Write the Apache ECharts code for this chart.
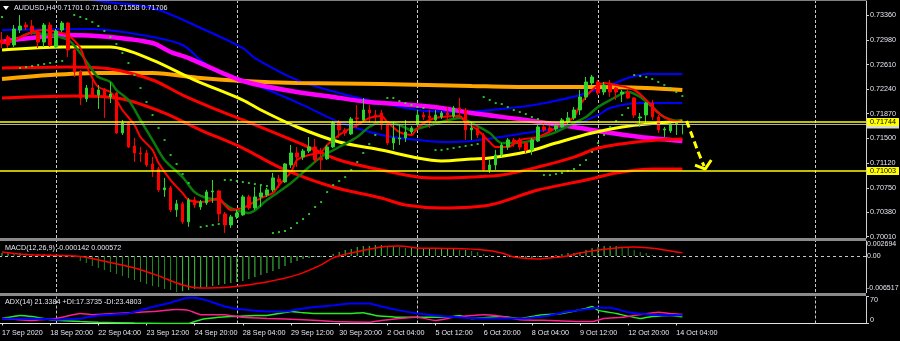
<!DOCTYPE html>
<html><head><meta charset="utf-8">
<script src="https://cdn.jsdelivr.net/npm/echarts@6/dist/echarts.min.js"></script>
<style>html,body{margin:0;padding:0;background:#000;overflow:hidden}#c{width:900px;height:341px}</style>
</head><body><div id="c"></div>
<script>
// ---------------- DATA ----------------
const chartTitle = 'AUDUSD,H4 0.71701 0.71708 0.71558 0.71706';
const macdTitle = 'MACD(12,26,9) -0.000142 0.000572';
const adxTitle = 'ADX(14) 21.3384 +DI:17.3735 -DI:23.4803';
const axisSlots = 144;                      // bars + empty chart shift
const tickBars = [0,8,16,24,32,40,48,56,64,72,80,88,96,104,112];
const tickLabels = ['17 Sep 2020','18 Sep 20:00','22 Sep 04:00','23 Sep 12:00','24 Sep 20:00','28 Sep 04:00','29 Sep 12:00','30 Sep 20:00','2 Oct 04:00','5 Oct 12:00','6 Oct 20:00','8 Oct 04:00','9 Oct 12:00','12 Oct 20:00','14 Oct 04:00'];
const weekStartBars = [9,39,69,99,135];
const priceTicks = [0.70010,0.70380,0.70750,0.71120,0.71500,0.71870,0.72240,0.72610,0.72980,0.73360];
const priceMin = 0.69991, priceMax = 0.73572;
const macdTicks = [-0.006517, 0, 0.002694];
const macdTickLabels = ['-0.006517','0.00','0.002694'];
const adxTicks = [0, 70];
const adxTickLabels = ['0','70'];
const resistanceLevel = 0.71744;
const supportLevel = 0.71003;
const bidPrice = 0.71706;

// [open, close, low, high]
const candles = [
[0.72983,0.72937,0.72862,0.73103],[0.73028,0.72907,0.72862,0.73058],[0.72907,0.73149,0.72877,0.73209],[0.73134,0.73194,0.73088,0.73360],[0.73209,0.73179,0.73134,0.73254],
[0.73194,0.73103,0.73058,0.73285],[0.73103,0.72952,0.72862,0.73134],[0.72952,0.73209,0.72877,0.73239],[0.73209,0.72907,0.72877,0.73254],[0.72877,0.73118,0.72862,0.73149],
[0.73134,0.73239,0.73103,0.73269],[0.73239,0.72832,0.72726,0.73254],[0.72832,0.72499,0.72424,0.72862],[0.72499,0.72107,0.72001,0.72530],[0.72092,0.72258,0.72046,0.72303],
[0.72258,0.72152,0.72107,0.72379],[0.72152,0.72228,0.71941,0.72303],[0.72228,0.72122,0.71805,0.72258],[0.72122,0.72167,0.72031,0.72348],[0.72182,0.71578,0.71563,0.72197],
[0.71578,0.71729,0.71548,0.71775],[0.71729,0.71367,0.71352,0.71745],[0.71382,0.71276,0.71140,0.71503],[0.71276,0.71261,0.71140,0.71367],[0.71276,0.71095,0.71065,0.71322],
[0.71110,0.71020,0.70914,0.71216],[0.71035,0.70718,0.70687,0.71065],[0.70718,0.70748,0.70612,0.70899],[0.70748,0.70416,0.70385,0.70778],[0.70416,0.70507,0.70310,0.70567],
[0.70507,0.70235,0.70204,0.70537],[0.70235,0.70567,0.70159,0.70597],[0.70567,0.70491,0.70446,0.70612],[0.70461,0.70537,0.70416,0.70567],[0.70521,0.70687,0.70491,0.70718],
[0.70687,0.70702,0.70521,0.70869],[0.70702,0.70355,0.70235,0.70718],[0.70355,0.70189,0.70068,0.70385],[0.70189,0.70310,0.70143,0.70340],[0.70310,0.70370,0.70280,0.70416],
[0.70340,0.70612,0.70325,0.70642],[0.70612,0.70446,0.70416,0.70642],[0.70446,0.70612,0.70416,0.70763],[0.70612,0.70672,0.70461,0.70793],[0.70642,0.70718,0.70612,0.70748],
[0.70718,0.70899,0.70687,0.70974],[0.70884,0.70838,0.70748,0.70944],[0.70838,0.71110,0.70823,0.71125],[0.71095,0.71276,0.71050,0.71397],[0.71276,0.71216,0.71065,0.71367],
[0.71216,0.71306,0.71171,0.71337],[0.71306,0.71367,0.71276,0.71518],[0.71367,0.71171,0.71125,0.71488],[0.71201,0.71171,0.71020,0.71352],[0.71186,0.71367,0.71171,0.71397],
[0.71367,0.71729,0.71352,0.71760],[0.71729,0.71624,0.71503,0.71775],[0.71624,0.71578,0.71533,0.71654],[0.71563,0.71790,0.71548,0.71820],[0.71805,0.71790,0.71654,0.72001],
[0.71775,0.71926,0.71760,0.72107],[0.71926,0.71880,0.71729,0.72001],[0.71850,0.71820,0.71699,0.71926],[0.71880,0.71699,0.71624,0.71926],[0.71699,0.71427,0.71397,0.71729],
[0.71427,0.71503,0.71322,0.71745],[0.71488,0.71503,0.71397,0.71699],[0.71503,0.71593,0.71442,0.71775],[0.71593,0.71654,0.71563,0.71684],[0.71699,0.71850,0.71669,0.71926],
[0.71850,0.71820,0.71775,0.71895],[0.71835,0.71805,0.71654,0.71926],[0.71775,0.71850,0.71760,0.71926],[0.71820,0.71880,0.71790,0.71910],[0.71880,0.71850,0.71745,0.71971],
[0.71835,0.71956,0.71805,0.71986],[0.71956,0.71926,0.71850,0.72107],[0.71926,0.71624,0.71473,0.71956],[0.71624,0.71654,0.71473,0.71745],[0.71654,0.71548,0.71503,0.71699],
[0.71548,0.71020,0.71005,0.71578],[0.71020,0.71095,0.70974,0.71171],[0.71095,0.71246,0.71020,0.71322],[0.71246,0.71397,0.71216,0.71427],[0.71367,0.71473,0.71322,0.71503],
[0.71473,0.71442,0.71367,0.71503],[0.71473,0.71367,0.71322,0.71503],[0.71427,0.71322,0.71276,0.71442],[0.71322,0.71473,0.71246,0.71503],[0.71457,0.71669,0.71442,0.71699],
[0.71669,0.71624,0.71593,0.71745],[0.71654,0.71609,0.71578,0.71699],[0.71639,0.71684,0.71609,0.71714],[0.71669,0.71775,0.71654,0.71805],[0.71745,0.71805,0.71714,0.71895],
[0.71805,0.71926,0.71775,0.71971],[0.71926,0.72122,0.71850,0.72228],[0.72122,0.72348,0.72077,0.72424],[0.72333,0.72424,0.72303,0.72454],[0.72348,0.72182,0.72152,0.72379],
[0.72197,0.72303,0.72152,0.72348],[0.72303,0.72197,0.72122,0.72379],[0.72258,0.72197,0.72077,0.72273],[0.72167,0.72197,0.72046,0.72228],[0.72197,0.72107,0.72092,0.72228],
[0.72107,0.71850,0.71805,0.72122],[0.71805,0.71820,0.71669,0.71880],[0.71850,0.72031,0.71729,0.72046],[0.72031,0.71820,0.71775,0.72077],[0.71820,0.71624,0.71578,0.71850],
[0.71624,0.71639,0.71518,0.71669],[0.71609,0.71699,0.71578,0.71745],[0.71714,0.71729,0.71548,0.71745],[0.71701,0.71706,0.71558,0.71708]
];

// indicator lines: [bar, price]
const blueUpper = [[10,0.73677],[16,0.73572],[25,0.73466],[33,0.73164],[40,0.72861],[42,0.72710],[49,0.72378],[56,0.72181],[63,0.72030],[69,0.71925],[76,0.71894],[86,0.71970],[91,0.72046],[96,0.72151],[101,0.72302],[104,0.72408],[107,0.72469],[113,0.72469]];
const blueLower = [[0,0.73133],[15,0.73148],[25,0.73028],[30,0.72907],[33,0.72680],[36,0.72499],[40,0.72378],[45,0.72197],[50,0.72000],[56,0.71743],[63,0.71547],[69,0.71471],[73,0.71441],[78,0.71456],[87,0.71577],[95,0.71698],[99,0.71849],[101,0.71955],[106,0.72030],[113,0.72030]];
const magentaMA = [[0,0.72952],[3,0.72997],[11,0.73058],[18,0.73028],[25,0.72937],[28,0.72801],[31,0.72710],[40,0.72363],[49,0.72197],[55,0.72121],[61,0.72046],[68,0.72000],[73,0.71955],[78,0.71879],[87,0.71774],[95,0.71668],[100,0.71592],[106,0.71517],[113,0.71456]];
const yellowMA = [[0,0.72831],[10,0.72876],[18,0.72876],[25,0.72680],[32,0.72378],[40,0.72076],[43,0.71925],[49,0.71668],[56,0.71441],[63,0.71320],[69,0.71199],[73,0.71154],[78,0.71184],[81,0.71199],[87,0.71290],[92,0.71426],[98,0.71577],[103,0.71668],[109,0.71728],[113,0.71758]];
const orangeMA = [[0,0.72393],[8,0.72453],[16,0.72484],[25,0.72484],[33,0.72408],[40,0.72363],[49,0.72333],[63,0.72317],[78,0.72287],[87,0.72272],[98,0.72272],[107,0.72257],[113,0.72227]];
const redUpper = [[0,0.72559],[11,0.72574],[18,0.72544],[25,0.72378],[30,0.72151],[35,0.71955],[40,0.71774],[49,0.71441],[56,0.71169],[63,0.71018],[69,0.70912],[73,0.70897],[78,0.70912],[83,0.70942],[89,0.71063],[95,0.71214],[99,0.71350],[104,0.71426],[109,0.71471],[113,0.71486]];
const redLower = [[0,0.72106],[13,0.72136],[20,0.72091],[27,0.71879],[33,0.71622],[40,0.71350],[46,0.71063],[55,0.70761],[63,0.70595],[67,0.70489],[73,0.70444],[81,0.70489],[89,0.70716],[97,0.70867],[102,0.70973],[108,0.71033],[113,0.71033]];
const fastMA = [[0,0.72937],[2,0.72982],[5,0.73103],[7,0.73133],[10,0.73088],[11,0.73058],[13,0.72861],[14,0.72605],[15,0.72408],[16,0.72272],[18,0.72197],[19,0.72076],[20,0.71925],[22,0.71698],[23,0.71517],[25,0.71320],[26,0.71124],[28,0.70867],[30,0.70670],[31,0.70565],[33,0.70534],[35,0.70565],[36,0.70595],[37,0.70489],[38,0.70414],[40,0.70444],[41,0.70489],[43,0.70595],[45,0.70670],[46,0.70791],[48,0.70988],[49,0.71169],[51,0.71245],[53,0.71290],[54,0.71396],[56,0.71547],[58,0.71653],[59,0.71698],[61,0.71804],[63,0.71834],[64,0.71743],[66,0.71592],[68,0.71547],[69,0.71653],[71,0.71774],[73,0.71819],[76,0.71834],[77,0.71743],[79,0.71622],[81,0.71441],[82,0.71366],[84,0.71366],[86,0.71471],[89,0.71517],[92,0.71653],[95,0.71819],[96,0.72000],[98,0.72227],[100,0.72333],[102,0.72302],[105,0.72227],[107,0.72076],[109,0.71879],[111,0.71774],[113,0.71743]];
const slowMA = [[3,0.73028],[5,0.73088],[8,0.73058],[11,0.72982],[13,0.72786],[15,0.72529],[16,0.72423],[18,0.72348],[19,0.72227],[21,0.72076],[23,0.71774],[25,0.71471],[27,0.71169],[30,0.70912],[32,0.70685],[34,0.70595],[36,0.70565],[38,0.70444],[40,0.70383],[41,0.70368],[44,0.70565],[48,0.70822],[51,0.71063],[53,0.71214],[56,0.71366],[59,0.71517],[61,0.71668],[63,0.71743],[66,0.71698],[68,0.71622],[70,0.71668],[73,0.71743],[76,0.71804],[78,0.71728],[81,0.71577],[83,0.71426],[84,0.71426],[87,0.71441],[89,0.71502],[92,0.71592],[95,0.71728],[97,0.71819],[99,0.71970],[101,0.72076],[104,0.72197],[106,0.72121],[108,0.71970],[110,0.71819],[113,0.71743]];
const sarDots = [[0,0.73330],[3,0.72559],[4,0.72574],[5,0.72589],[6,0.72605],[7,0.72620],[8,0.72635],[9,0.72650],[10,0.72665],
[12,0.73360],[13,0.73330],[14,0.73300],[15,0.73254],[16,0.73194],[17,0.73118],[18,0.73028],[19,0.72922],[20,0.72786],[21,0.72635],[22,0.72453],[23,0.72257],[24,0.72046],[25,0.71849],[26,0.71653],[27,0.71471],[28,0.71245],[29,0.71109],[30,0.70958],[31,0.70822],
[33,0.70157],[34,0.70172],[35,0.70187],[36,0.70202],
[37,0.70867],[38,0.70867],[39,0.70852],[40,0.70837],[41,0.70822],[42,0.70806],[43,0.70791],[44,0.70776],
[45,0.70066],[46,0.70081],[47,0.70097],[48,0.70142],[49,0.70217],[50,0.70278],[51,0.70353],[52,0.70459],[53,0.70534],[54,0.70685],[55,0.70791],[56,0.70852],[57,0.70912],[58,0.71018],[59,0.71139],[60,0.71275],[61,0.71411],[62,0.71547],
[64,0.72106],[65,0.72106],[66,0.72061],[67,0.72030],[68,0.72000],[69,0.71970],[70,0.71955],
[72,0.71320],[73,0.71320],[74,0.71335],[75,0.71350],[76,0.71366],[77,0.71381],[78,0.71396],[79,0.71411],
[80,0.72121],[81,0.72076],[82,0.72030],[83,0.72015],[84,0.71970],[85,0.71925],[86,0.71894],[87,0.71864],[88,0.71819],[89,0.71789],
[90,0.70942],[91,0.70942],[92,0.70958],[93,0.70973],[94,0.71003],[95,0.71033],[96,0.71094],[97,0.71169],[98,0.71290],[99,0.71426],[100,0.71547],[101,0.71668],[102,0.71758],[103,0.71849],[104,0.71955],
[105,0.72453],[106,0.72438],[107,0.72423],[108,0.72393],[109,0.72348],[110,0.72302],[111,0.72257],[112,0.72197],[113,0.72136]];

const macdHist = [
0.00054,0.00054,0.00050,0.00050,0.00045,0.00040,0.00036,0.00036,0.00032,0.00030,
0.00027,0.00018,-0.00018,-0.00090,-0.00126,-0.00181,-0.00217,-0.00253,-0.00289,-0.00325,
-0.00361,-0.00397,-0.00433,-0.00470,-0.00506,-0.00542,-0.00560,-0.00596,-0.00614,-0.00650,
-0.00640,-0.00614,-0.00596,-0.00578,-0.00560,-0.00542,-0.00524,-0.00506,-0.00488,-0.00470,
-0.00452,-0.00415,-0.00379,-0.00343,-0.00307,-0.00271,-0.00235,-0.00181,-0.00126,-0.00090,
-0.00054,-0.00036,-0.00018,-0.00018,0.00000,0.00036,0.00072,0.00108,0.00126,0.00163,
0.00181,0.00181,0.00199,0.00199,0.00181,0.00181,0.00163,0.00144,0.00144,0.00144,
0.00144,0.00144,0.00126,0.00126,0.00126,0.00126,0.00108,0.00108,0.00090,0.00072,
0.00036,0.00018,0.00000,0.00000,-0.00018,-0.00018,-0.00036,-0.00036,-0.00036,-0.00018,
-0.00018,0.00000,0.00018,0.00036,0.00054,0.00054,0.00072,0.00108,0.00144,0.00163,
0.00181,0.00181,0.00181,0.00163,0.00144,0.00108,0.00072,0.00054,0.00018,0.00005,
-0.00005,-0.00010,-0.00012,-0.000142];
const macdSignal = [[0,0.00072],[4,0.00027],[13,-0.00009],[16,-0.00072],[22,-0.00217],[26,-0.00361],[30,-0.00524],[33,-0.00578],[38,-0.00560],[44,-0.00470],[49,-0.00343],[53,-0.00163],[55,-0.00036],[58,0.00054],[63,0.00163],[66,0.00181],[69,0.00144],[74,0.00135],[80,0.00108],[83,0.00054],[85,-0.00018],[89,-0.00054],[91,-0.00036],[94,0.00000],[96,0.00054],[99,0.00108],[102,0.00144],[105,0.00163],[109,0.00126],[112,0.00072],[113,0.000572]];

const adxMain = [[0,12],[5,13],[9,10],[13,13],[16,21],[21,26],[24,39],[28,54],[31,67],[32,67],[34,60],[37,44],[40,36],[44,31],[47,31],[50,39],[53,44],[55,47],[58,52],[61,52],[63,44],[66,34],[69,26],[72,21],[75,17],[80,13],[86,13],[91,21],[94,31],[98,39],[99,41],[101,41],[104,29],[108,23],[111,21.5],[113,21.3384]];
const plusDI = [[0,13],[3,21],[5,18],[8,10],[13,5],[16,3],[22,1],[27,0],[31,0],[33,10],[36,16],[38,18],[42,21],[44,21],[46,26],[48,31],[50,28],[52,26],[55,26],[58,26],[60,28],[62,21],[66,16],[69,16],[72,16],[75,18],[76,21],[78,13],[83,18],[86,13],[89,21],[93,26],[97,39],[98,44],[99,34],[102,26],[106,13],[108,18],[111,21],[113,17.3735]];
const minusDI = [[0,13],[5,8],[9,13],[13,26],[15,23],[19,26],[25,31],[29,36],[31,34],[33,23],[37,23],[40,16],[44,13],[50,10],[55,5],[61,3],[63,8],[66,13],[69,16],[72,8],[75,16],[80,23],[82,21],[86,10],[91,8],[96,5],[98,5],[100,13],[103,16],[106,23],[109,29],[111,26],[113,23.4803]];

// hand-drawn forecast arrow (bar position, price)
const arrowPath = [[113.7,0.71758],[114.7,0.71517],[115.5,0.71320],[116.6,0.71078]];
const arrowHead = [[115.1,0.71093],[116.8,0.71033],[117.8,0.71169]];

// ---------------- CHART ----------------
const FONT = 'Liberation Sans, Arial, sans-serif';
const FS = 7.2;
const TXT = '#e6e6f2';
const BULL = '#2fd42f', BEAR = '#ff0000';
const categories = Array.from({length: axisSlots}, (_, i) => String(i));
const chart = echarts.init(document.getElementById('c'), null, {renderer: 'canvas'});

const grids = [
  {left: -1, right: 34, top: 1, height: 237, outerBoundsMode: 'none'},
  {left: -1, right: 34, top: 241, height: 51, outerBoundsMode: 'none'},
  {left: -1, right: 34, top: 296.5, height: 27, outerBoundsMode: 'none'}
];
const catAxis = (gi, visible) => ({
  type: 'category', gridIndex: gi, data: categories, boundaryGap: true, show: visible,
  offset: visible ? 1.5 : 0,
  axisLine: {show: visible, lineStyle: {color: '#e0e0e0', width: 1}},
  axisTick: {show: visible, alignWithLabel: true, length: 2, interval: (i) => tickBars.includes(i), lineStyle: {color: '#e0e0e0'}},
  axisLabel: {show: visible, interval: (i) => tickBars.includes(i), align: 'left', margin: 5,
    formatter: (v, i) => { const k = tickBars.indexOf(Number(v)); return k >= 0 ? tickLabels[k] : ''; },
    color: TXT, fontSize: FS, fontFamily: FONT},
  splitLine: {show: false}
});
const valAxisCommon = {
  position: 'right', splitLine: {show: false}, scale: false,
  axisLine: {show: true, onZero: false, lineStyle: {color: '#d0d0d0', width: 1}}
};
const yAxes = [
  Object.assign({}, valAxisCommon, {type: 'value', gridIndex: 0, min: priceMin, max: priceMax,
    axisTick: {show: true, length: 3, customValues: priceTicks, lineStyle: {color: '#d0d0d0'}},
    axisLabel: {customValues: priceTicks, formatter: v => v.toFixed(5), margin: 4, color: TXT, fontSize: FS, fontFamily: FONT}}),
  Object.assign({}, valAxisCommon, {type: 'value', gridIndex: 1, min: macdTicks[0], max: macdTicks[2],
    axisTick: {show: true, length: 1, customValues: macdTicks, lineStyle: {color: '#d0d0d0'}},
    axisLabel: {customValues: macdTicks, formatter: v => macdTickLabels[macdTicks.indexOf(v)] ?? '', margin: 1, color: TXT, fontSize: 7, fontFamily: FONT,
      verticalAlignMinLabel: 'bottom', verticalAlignMaxLabel: 'top'}}),
  Object.assign({}, valAxisCommon, {type: 'value', gridIndex: 2, min: adxTicks[0], max: adxTicks[1],
    axisTick: {show: true, length: 3, customValues: adxTicks, lineStyle: {color: '#d0d0d0'}},
    axisLabel: {customValues: adxTicks, formatter: v => adxTickLabels[adxTicks.indexOf(v)] ?? '', margin: 4, color: TXT, fontSize: FS, fontFamily: FONT,
      verticalAlignMinLabel: 'bottom', verticalAlignMaxLabel: 'top'}}),
  {type: 'value', gridIndex: 0, min: priceMin, max: priceMax, show: false}
];
const xAxes = [catAxis(0, false), catAxis(1, false), catAxis(2, true),
  {type: 'value', gridIndex: 0, min: -0.5, max: axisSlots - 0.5, show: false}];

const vGrid = (z) => ({silent: true, symbol: 'none', z: z, label: {show: false}, animation: false,
  lineStyle: {color: '#c8c8c8', width: 1, type: [3, 2]},
  data: weekStartBars.map(b => ({xAxis: b}))});

const ln = (data, color, width, z, extra) => Object.assign({
  type: 'line', xAxisIndex: 0, yAxisIndex: 0, data, smooth: 0.3, symbol: 'none', silent: true,
  lineStyle: {color, width}, z, clip: true, animation: false}, extra || {});

// horizontal price levels drawn across the full plot width, with price tag on the right
const levelSeries = (price, lineColor, width, txt, bg, z) => ({
  type: 'line', xAxisIndex: 3, yAxisIndex: 3, data: [[-0.5, price], [axisSlots - 0.5, price]],
  symbol: 'none', silent: true, animation: false, clip: false, z,
  lineStyle: {color: lineColor, width},
  endLabel: {show: true, formatter: txt, distance: 1, backgroundColor: bg, color: '#000',
    padding: [1, 3, 0, 3], fontSize: FS, fontFamily: FONT, valueAnimation: false}
});

const series = [
  ln(blueUpper, '#0000ff', 2, 3),
  ln(blueLower, '#0000ff', 2, 3),
  ln(orangeMA, '#ffa500', 4, 3),
  ln(magentaMA, '#ff00ff', 4.5, 4),
  ln(yellowMA, '#ffff00', 3, 4),
  ln(redUpper, '#ff0000', 3, 4),
  ln(redLower, '#ff0000', 3, 4),
  ln(slowMA, '#0a7a0a', 2.5, 5),
  ln(fastMA, '#ff0000', 2, 6),
  {type: 'scatter', xAxisIndex: 0, yAxisIndex: 0, data: sarDots, symbol: 'rect', symbolSize: 2, silent: true,
   itemStyle: {color: '#33ee33'}, z: 6, animation: false},
  {type: 'candlestick', xAxisIndex: 0, yAxisIndex: 0, data: candles, barWidth: 3, silent: true, animation: false,
   itemStyle: {color: BULL, color0: BEAR, borderColor: BULL, borderColor0: BEAR, borderWidth: 1}, z: 10,
   markLine: vGrid(1)},
  levelSeries(bidPrice, '#b4b4b4', 1, '0.71706', '#d8d8d8', 12),
  levelSeries(supportLevel, '#ffff00', 1.5, '0.71003', '#ffff00', 13),
  levelSeries(resistanceLevel, '#ffff00', 1.5, '0.71744', '#ffff00', 14),
  {type: 'line', xAxisIndex: 3, yAxisIndex: 3, data: arrowPath, symbol: 'none', smooth: 0.3, silent: true, animation: false,
   lineStyle: {color: '#ffff00', width: 3, type: [7, 4]}, z: 15},
  {type: 'line', xAxisIndex: 3, yAxisIndex: 3, data: arrowHead, symbol: 'none', silent: true, animation: false,
   lineStyle: {color: '#ffff00', width: 3}, z: 15},
  // MACD panel
  {type: 'bar', xAxisIndex: 1, yAxisIndex: 1, data: macdHist, barWidth: 1, silent: true, animation: false,
   itemStyle: {color: p => (p.dataIndex > 0 && macdHist[p.dataIndex] < macdHist[p.dataIndex - 1]) ? '#1f8f1f' : '#44cc44'}, z: 3,
   markLine: {silent: true, symbol: 'none', z: 2, label: {show: false}, animation: false,
     data: [{yAxis: 0, lineStyle: {color: '#c8c8c8', width: 1, type: [3, 3]}}].concat(weekStartBars.map(b => ({xAxis: b, lineStyle: {color: '#c8c8c8', width: 1, type: [3, 2]}})))}},
  {type: 'line', xAxisIndex: 1, yAxisIndex: 1, data: macdSignal, smooth: 0.3, symbol: 'none', silent: true, animation: false,
   lineStyle: {color: '#ff0000', width: 1.5}, z: 4},
  // ADX panel
  {type: 'line', xAxisIndex: 2, yAxisIndex: 2, data: adxMain, smooth: 0.2, symbol: 'none', silent: true, animation: false,
   lineStyle: {color: '#0000ff', width: 2}, z: 4,
   markLine: vGrid(1)},
  {type: 'line', xAxisIndex: 2, yAxisIndex: 2, data: plusDI, smooth: 0.1, symbol: 'none', silent: true, animation: false,
   lineStyle: {color: '#22ee22', width: 1.5}, z: 3},
  {type: 'line', xAxisIndex: 2, yAxisIndex: 2, data: minusDI, smooth: 0.1, symbol: 'none', silent: true, animation: false,
   lineStyle: {color: '#ff1e8c', width: 1.5}, z: 3}
];

const graphic = [
  {type: 'rect', shape: {x: 0, y: 238, width: 866, height: 3}, style: {fill: '#8a8a8a'}, z: 50, silent: true},
  {type: 'rect', shape: {x: 0, y: 293, width: 866, height: 3}, style: {fill: '#8a8a8a'}, z: 50, silent: true},
  {type: 'rect', shape: {x: 0, y: 0, width: 866, height: 1}, style: {fill: '#808080'}, z: 50, silent: true},
  {type: 'polygon', shape: {points: [[3, 6], [9, 6], [6, 10]]}, style: {fill: '#ffffff'}, z: 60, silent: true},
  {type: 'text', x: 14, y: 8, style: {text: chartTitle, fill: TXT, font: FS + 'px ' + FONT, verticalAlign: 'middle'}, z: 60, silent: true},
  {type: 'text', x: 5, y: 248, style: {text: macdTitle, fill: TXT, font: FS + 'px ' + FONT, verticalAlign: 'middle'}, z: 60, silent: true},
  {type: 'text', x: 5, y: 302, style: {text: adxTitle, fill: TXT, font: FS + 'px ' + FONT, verticalAlign: 'middle'}, z: 60, silent: true}
];

chart.setOption({
  backgroundColor: '#000000',
  animation: false,
  grid: grids,
  xAxis: xAxes,
  yAxis: yAxes,
  series: series,
  graphic: graphic
});
</script>
</body></html>
